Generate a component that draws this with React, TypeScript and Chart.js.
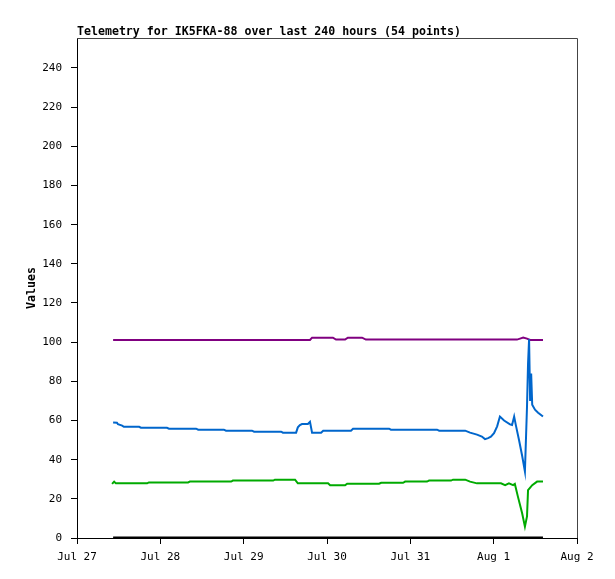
import React, { useEffect, useRef } from "react";
import { Chart, registerables } from "chart.js";

Chart.register(...registerables);

const TITLE = "Telemetry for IK5FKA-88 over last 240 hours (54 points)";
const Y_TITLE = "Values";
// x = hours since Jul 27 00:00
const X_TICK_LABELS = ["Jul 27", "Jul 28", "Jul 29", "Jul 30", "Jul 31", "Aug 1", "Aug 2"];

const purpleHours = [10.4, 67.1, 67.7, 73.7, 74.6, 77.2, 78.0, 82.1, 83.2, 126.7, 127.6, 128.5, 129.6, 130.5, 134.2];
const purpleValues = [101.1, 101.1, 102.3, 102.3, 101.3, 101.3, 102.3, 102.3, 101.3, 101.3, 101.8, 102.3, 101.8, 101.1, 101.1];

const blueHours = [10.4, 11.5, 11.8, 13.0, 13.5, 17.9, 18.4, 25.9, 26.5, 34.3, 34.9, 42.3, 42.9, 50.4, 51.0, 58.8, 59.3, 63.1, 63.6, 64.2, 64.8, 66.5, 67.1, 67.7, 70.3, 70.9, 78.9, 79.5, 89.9, 90.4, 103.7, 104.3, 111.8, 113.2, 115.2, 116.6, 117.5, 118.4, 119.2, 120.1, 121.0, 121.8, 123.0, 124.7, 125.3, 125.9, 126.4, 127.3, 128.2, 129.0, 129.6, 129.9, 130.2, 130.5, 130.8, 131.1, 131.9, 132.8, 134.2];
const blueValues = [59, 58.9, 58.1, 57.4, 56.8, 56.8, 56.3, 56.3, 55.8, 55.8, 55.3, 55.3, 54.8, 54.8, 54.3, 54.3, 53.8, 53.8, 56.5, 57.7, 58.2, 58.2, 59.3, 53.8, 53.8, 54.8, 54.8, 55.8, 55.8, 55.3, 55.3, 54.8, 54.8, 53.8, 52.8, 51.8, 50.5, 51, 51.7, 53.5, 57, 62, 60, 58, 57.7, 62, 57.5, 50, 42, 34, 67, 89, 101.5, 70, 84, 68, 65.5, 64, 62];

const greenHours = [10.1, 10.7, 11.2, 20.2, 20.7, 32.0, 32.5, 44.4, 44.9, 56.5, 57.0, 62.8, 63.6, 72.3, 72.9, 77.2, 77.8, 87.0, 87.6, 93.9, 94.5, 100.8, 101.4, 107.7, 108.3, 111.8, 113.2, 115.2, 122.1, 123.3, 124.4, 125.6, 126.1, 127.0, 128.2, 129.0, 129.6, 129.9, 131.1, 132.5, 134.2];
const greenValues = [27.6, 28.8, 27.9, 27.9, 28.4, 28.4, 28.8, 28.8, 29.3, 29.3, 29.8, 29.8, 27.9, 27.9, 26.9, 26.9, 27.7, 27.7, 28.2, 28.2, 28.8, 28.8, 29.3, 29.3, 29.8, 29.8, 28.8, 27.9, 27.9, 27, 27.9, 27, 27.6, 21, 12.6, 5.8, 11, 24.5, 27, 28.8, 28.8];

const blackHours = [10.4, 134.2];
const blackValues = [0, 0];

const toPoints = (xs: number[], ys: number[]) => xs.map((x, i) => ({ x, y: ys[i] }));

const MONO = '"DejaVu Sans Mono", monospace';

export default function App() {
  const ref = useRef<HTMLCanvasElement | null>(null);

  useEffect(() => {
    if (!ref.current) return;
    const framePlugin = {
      id: "frame",
      afterDraw(chart: any) {
        const { ctx, chartArea: a } = chart;
        ctx.save();
        ctx.strokeStyle = "#444444";
        ctx.lineWidth = 1;
        ctx.beginPath();
        ctx.moveTo(a.left, a.top + 0.5);
        ctx.lineTo(a.right + 0.5, a.top + 0.5);
        ctx.lineTo(a.right + 0.5, a.bottom);
        ctx.stroke();
        ctx.fillStyle = "#000";
        ctx.font = `bold 11.6px ${MONO}`;
        ctx.textAlign = "left";
        ctx.textBaseline = "alphabetic";
        ctx.fillText(TITLE, a.left, 35);
        ctx.translate(32, (a.top + a.bottom) / 2);
        ctx.rotate(-Math.PI / 2);
        ctx.textAlign = "center";
        ctx.textBaseline = "middle";
        ctx.fillText(Y_TITLE, 0, 0);
        ctx.restore();
      },
    };

    const chart = new Chart(ref.current, {
      type: "line",
      data: {
        datasets: [
          { data: toPoints(blackHours, blackValues), borderColor: "#000000", borderWidth: 3 },
          { data: toPoints(greenHours, greenValues), borderColor: "#00aa00", borderWidth: 2 },
          { data: toPoints(blueHours, blueValues), borderColor: "#0066cc", borderWidth: 2 },
          { data: toPoints(purpleHours, purpleValues), borderColor: "#800080", borderWidth: 2 },
        ] as any,
      },
      options: {
        animation: false,
        responsive: false,
        devicePixelRatio: 1,
        parsing: false as any,
        elements: { point: { radius: 0 }, line: { tension: 0 } },
        layout: { padding: { top: 38, right: 38, left: 0, bottom: 0 } },
        plugins: { legend: { display: false }, tooltip: { enabled: false }, title: { display: false } },
        scales: {
          x: {
            type: "linear",
            min: 0,
            max: 144,
            afterFit: (s: any) => { s.height = 41; },
            border: { color: "#000", width: 1 },
            grid: { drawOnChartArea: false, drawTicks: true, tickLength: 6, tickColor: "#000" },
            ticks: {
              stepSize: 24,
              padding: 7,
              color: "#000",
              font: { family: MONO, size: 11 },
              maxRotation: 0,
              autoSkip: false,
              callback: (v: any) => X_TICK_LABELS[Math.round(Number(v) / 24)] ?? "",
            },
          },
          y: {
            type: "linear",
            min: 0,
            max: 255.3,
            afterFit: (s: any) => { s.width = 77; },
            border: { color: "#000", width: 1 },
            grid: { drawOnChartArea: false, drawTicks: true, tickLength: 6, tickColor: "#000" },
            ticks: {
              stepSize: 20,
              includeBounds: false,
              padding: 9,
              color: "#000",
              font: { family: MONO, size: 11 },
            },
          },
        },
      },
      plugins: [framePlugin],
    });
    return () => chart.destroy();
  }, []);

  return (
    <div style={{ position: "absolute", left: 0, top: 0, width: 615, height: 579, background: "#fff" }}>
      <canvas ref={ref} width={615} height={579} style={{ display: "block", width: 615, height: 579 }} />
    </div>
  );
}
